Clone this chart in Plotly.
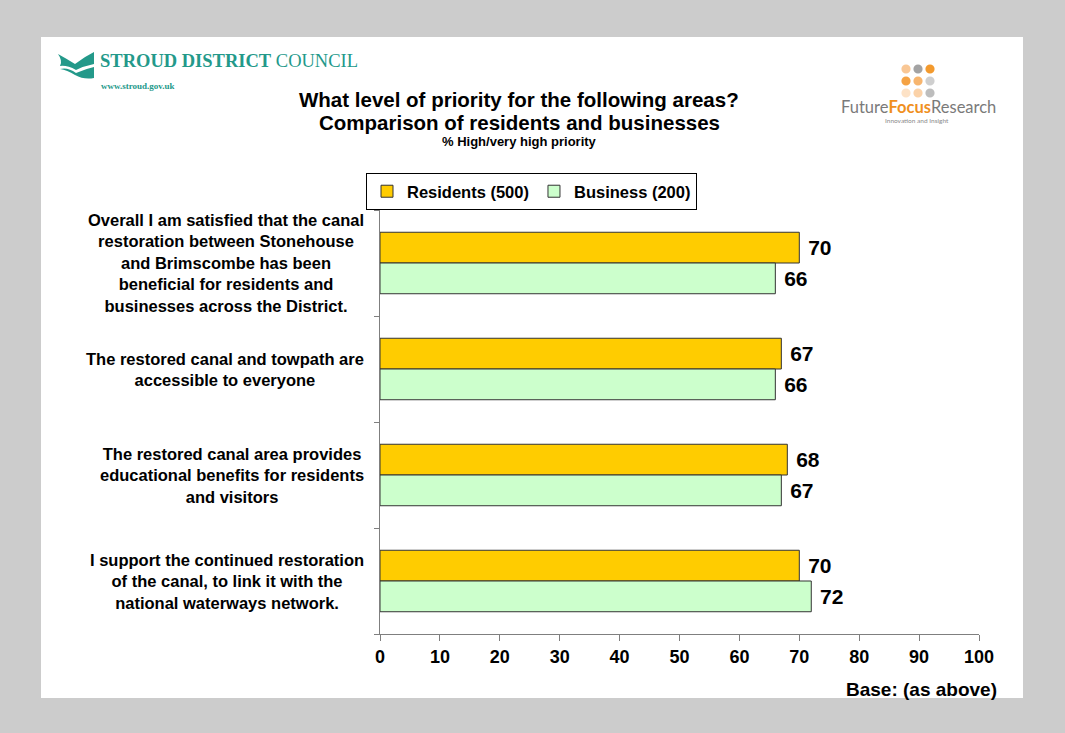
import plotly.graph_objects as go

# Survey statements (category axis) and % rating high / very high priority
statements = [
    "Overall I am satisfied that the canal<br>restoration between Stonehouse<br>and Brimscombe has been<br>beneficial for residents and<br>businesses across the District.",
    "The restored canal and towpath are<br>accessible to everyone",
    "The restored canal area provides<br>educational benefits for residents<br>and visitors",
    "I support the continued restoration<br>of the canal, to link it with the<br>national waterways network.",
]
residents = [70, 67, 68, 70]
business = [66, 66, 67, 72]
series_names = ["Residents (500)", "Business (200)"]
x_ticks = [0, 10, 20, 30, 40, 50, 60, 70, 80, 90, 100]

title_lines = [
    "What level of priority for the following areas?",
    "Comparison of residents and businesses",
]
subtitle = "% High/very high priority"
base_note = "Base: (as above)"

FONT = "Arial, Liberation Sans, sans-serif"
W, H = 1065, 733
L, R, T, B = 380, 86, 210, 99
PW, PH = W - L - R, H - T - B


def px(x):
    """page pixel x -> paper x"""
    return (x - L) / PW


def py(y):
    """page pixel y -> paper y"""
    return (H - B - y) / PH


cats = list(range(len(statements)))

fig = go.Figure()
fig.add_trace(go.Bar(
    name=series_names[0], y=cats, x=residents, orientation="h",
    marker=dict(color="#FFCC00", line=dict(color="#333333", width=1)),
    text=residents, texttemplate="&nbsp;%{x}", textposition="outside",
    textfont=dict(family=FONT, size=21, color="black", weight="bold"),
    cliponaxis=False,
))
fig.add_trace(go.Bar(
    name=series_names[1], y=cats, x=business, orientation="h",
    marker=dict(color="#CCFFCC", line=dict(color="#333333", width=1)),
    text=business, texttemplate="&nbsp;%{x}", textposition="outside",
    textfont=dict(family=FONT, size=21, color="black", weight="bold"),
    cliponaxis=False,
))

annotations = []
# category labels, centred block right-aligned against the axis
for i, s in enumerate(statements):
    annotations.append(dict(
        x=0, xref="paper", xshift=-14, xanchor="right",
        y=i, yref="y", yanchor="middle", align="center",
        text=s, showarrow=False,
        font=dict(family=FONT, size=16.5, color="black", weight="bold"),
    ))

# titles
for text, y, size in [(title_lines[0], 100, 20.5), (title_lines[1], 122, 20.5), (subtitle, 141, 13)]:
    annotations.append(dict(
        x=px(519), xref="paper", xanchor="center",
        y=py(y), yref="paper", yanchor="middle",
        text=text, showarrow=False,
        font=dict(family=FONT, size=size, color="black", weight="bold"),
    ))

annotations.append(dict(
    x=px(999), xref="paper", xanchor="right",
    y=py(689), yref="paper", yanchor="middle",
    text=base_note, showarrow=False,
    font=dict(family=FONT, size=19, color="black", weight="bold"),
))

# council logo text
TEAL = "#23998a"
annotations.append(dict(
    x=px(98), xref="paper", xanchor="left",
    y=py(61), yref="paper", yanchor="middle",
    text="<b>STROUD DISTRICT</b> COUNCIL", showarrow=False,
    font=dict(family="Liberation Serif, Times New Roman, serif", size=18.5, color=TEAL),
))
annotations.append(dict(
    x=px(99), xref="paper", xanchor="left",
    y=py(86), yref="paper", yanchor="middle",
    text="<b>www.stroud.gov.uk</b>", showarrow=False,
    font=dict(family="Liberation Serif, Times New Roman, serif", size=9, color=TEAL),
))

# research agency logo text
annotations.append(dict(
    x=px(918), xref="paper", xanchor="center",
    y=py(107), yref="paper", yanchor="middle",
    text="Future<b><span style='color:#F0901E'>Focus</span></b>Research", showarrow=False,
    font=dict(family="Lato, Open Sans, sans-serif", size=16.5, color="#7a7a7a"),
))
annotations.append(dict(
    x=px(917), xref="paper", xanchor="center",
    y=py(121), yref="paper", yanchor="middle",
    text="Innovation and Insight", showarrow=False,
    font=dict(family="Lato, Open Sans, sans-serif", size=6.5, color="#8a8a8a"),
))

shapes = [
    # white panel on grey page
    dict(type="rect", xref="paper", yref="paper", layer="below",
         x0=px(41), x1=px(1023), y0=py(698), y1=py(37),
         fillcolor="white", line=dict(width=0)),
]


# council emblem
def ppath(points):
    cmds = []
    for c, pts in points:
        cmds.append(c + " ".join(f"{px(a):.5f},{py(b):.5f}" for a, b in pts))
    return " ".join(cmds) + " Z"


emblem_top = ppath([
    ("M", [(58, 54)]),
    ("Q", [(67, 59), (75, 64)]),
    ("Q", [(84, 57), (94, 52)]),
    ("L", [(94, 64)]),
    ("Q", [(84, 66), (76, 70)]),
    ("Q", [(67, 65), (60, 66)]),
    ("Q", [(63, 61), (58, 54)]),
])
emblem_bottom = ppath([
    ("M", [(60, 69)]),
    ("Q", [(68, 67), (76, 73)]),
    ("Q", [(85, 69), (94, 67)]),
    ("L", [(94, 78)]),
    ("Q", [(84, 80), (75, 75)]),
    ("Q", [(67, 70), (60, 69)]),
])
for p in (emblem_top, emblem_bottom):
    shapes.append(dict(type="path", xref="paper", yref="paper", path=p,
                       fillcolor=TEAL, line=dict(width=0), layer="above"))

# agency dot grid
dot_colors = [
    ["#F9C795", "#A3A3A3", "#F39A2E"],
    ["#F5A243", "#F7B56E", "#CFCFCF"],
    ["#FDE2C6", "#FBD2A8", "#BDBDBD"],
]
dot_x = [906, 918, 930]
dot_y = [69, 81, 93]
for r, cy in enumerate(dot_y):
    for c, cx in enumerate(dot_x):
        shapes.append(dict(type="circle", xref="paper", yref="paper",
                           x0=px(cx - 4.6), x1=px(cx + 4.6),
                           y0=py(cy + 4.6), y1=py(cy - 4.6),
                           fillcolor=dot_colors[r][c], line=dict(width=0)))

fig.update_layout(
    width=W, height=H,
    margin=dict(l=L, r=R, t=T, b=B, pad=0),
    paper_bgcolor="#CCCCCC",
    plot_bgcolor="white",
    barmode="group",
    bargap=0.42,
    bargroupgap=0,
    font=dict(family=FONT, color="black"),
    showlegend=True,
    legend=dict(
        orientation="h", traceorder="normal",
        x=px(366), xanchor="left", y=py(173), yanchor="top",
        bgcolor="white", bordercolor="black", borderwidth=1,
        font=dict(family=FONT, size=16.5, color="black", weight="bold"),
        itemwidth=30,
    ),
    xaxis=dict(
        range=[0, 100], tickvals=x_ticks, ticktext=[str(v) for v in x_ticks],
        showgrid=False, zeroline=False,
        showline=True, linecolor="#7f7f7f", linewidth=1,
        ticks="outside", ticklen=6, tickcolor="#7f7f7f",
        tickfont=dict(family=FONT, size=18, color="black", weight="bold"),
        fixedrange=True,
    ),
    yaxis=dict(
        type="linear", range=[3.5, -0.5],
        tickvals=[-0.5, 0.5, 1.5, 2.5, 3.5], showticklabels=False,
        showgrid=False, zeroline=False,
        showline=True, linecolor="#7f7f7f", linewidth=1,
        ticks="outside", ticklen=5, tickcolor="#7f7f7f",
        fixedrange=True,
    ),
    annotations=annotations,
    shapes=shapes,
)

fig.write_html("out.html")
